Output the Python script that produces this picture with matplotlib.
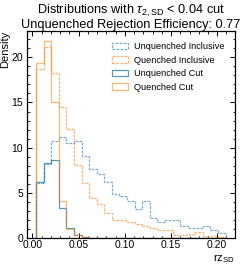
import numpy as np
import matplotlib
matplotlib.use("Agg")
import matplotlib.pyplot as plt
from matplotlib.ticker import MultipleLocator

plt.rcParams['font.family'] = ['Liberation Sans', 'DejaVu Sans']
plt.rcParams['mathtext.fontset'] = 'custom'
plt.rcParams['mathtext.rm'] = 'Liberation Sans'
plt.rcParams['mathtext.it'] = 'Liberation Sans:italic'

# bin edges (rz_SD)
bin_edges = np.linspace(0.004, 0.209, 26)

unquenched_inclusive = [6.1, 8.2, 10.7, 11.2, 10.5, 10.7, 9.1, 7.7, 7.1, 6.2,
                        4.9, 4.7, 4.1, 3.2, 4.1, 2.2, 1.8, 2.0, 2.0, 1.4,
                        1.1, 1.1, 1.4, 0.9, 0.6]
quenched_inclusive = [18.7, 21.1, 18.3, 14.5, 12.1, 8.1, 6.1, 4.4, 3.8, 2.8,
                      2.0, 2.0, 1.8, 1.6, 1.4, 1.1, 0.9, 0.95, 0.4, 0.4,
                      0.5, 0.65, 0.2, 0.2, 0.15]
unquenched_cut = [6.2, 8.3, 8.7, 3.3, 1.1, 0.35, 0.1, 0, 0, 0,
                  0, 0, 0, 0, 0, 0, 0, 0, 0, 0,
                  0, 0, 0, 0, 0]
quenched_cut = [19.4, 21.8, 15.1, 4.15, 1.0, 0.36, 0.12, 0, 0, 0,
                0, 0, 0, 0, 0, 0, 0, 0, 0, 0,
                0, 0, 0, 0, 0]

labels = ["Unquenched Inclusive", "Quenched Inclusive", "Unquenched Cut", "Quenched Cut"]
title_text = "Distributions with $\\tau_{\\mathrm{2,SD}}$ < 0.04 cut\nUnquenched Rejection Efficiency: 0.77"

fig = plt.figure(figsize=(2.49, 2.65), dpi=100)
ax = fig.add_axes([0.107, 0.101, 0.837, 0.782])

dash = (0, (2.2, 1.0))
styles = [
    dict(color='#1f77b4', ls=dash, alpha=0.6),
    dict(color='#ff7f0e', ls=dash, alpha=0.6),
    dict(color='#1f77b4', ls='-', alpha=0.75),
    dict(color='#ff7f0e', ls='-', alpha=0.55),
]
for vals, lab, st in zip([unquenched_inclusive, quenched_inclusive, unquenched_cut, quenched_cut], labels, styles):
    ax.hist(bin_edges[:-1], bins=bin_edges, weights=vals, histtype='step',
            lw=0.9, label=lab, **st)

ax.set_xlim(-0.0063, 0.2193)
ax.set_ylim(0, 22.9)
ax.xaxis.set_major_locator(MultipleLocator(0.05))
ax.xaxis.set_minor_locator(MultipleLocator(0.01))
ax.yaxis.set_major_locator(MultipleLocator(5))
ax.yaxis.set_minor_locator(MultipleLocator(1))
ax.tick_params(which='both', direction='in', top=True, right=True, labelsize=7.5)
ax.tick_params(axis='x', pad=1.5)
ax.tick_params(axis='y', pad=2.5)
ax.tick_params(which='major', length=3.5, width=0.7)
ax.tick_params(which='minor', length=1.8, width=0.6)
for s in ax.spines.values():
    s.set_linewidth(0.9)

ax.set_ylabel("Density", fontsize=8, loc='top', labelpad=1)
ax.set_xlabel("rz$_{\\mathrm{SD}}$", fontsize=8, loc='right', labelpad=1)
ax.set_title(title_text, fontsize=9.2, pad=2, linespacing=1.05)

leg = ax.legend(loc='upper right', frameon=False, fontsize=6.6, handlelength=1.7,
                handletextpad=0.6, labelspacing=0.5, borderaxespad=0.8)

fig.savefig("out.png", dpi=100)
